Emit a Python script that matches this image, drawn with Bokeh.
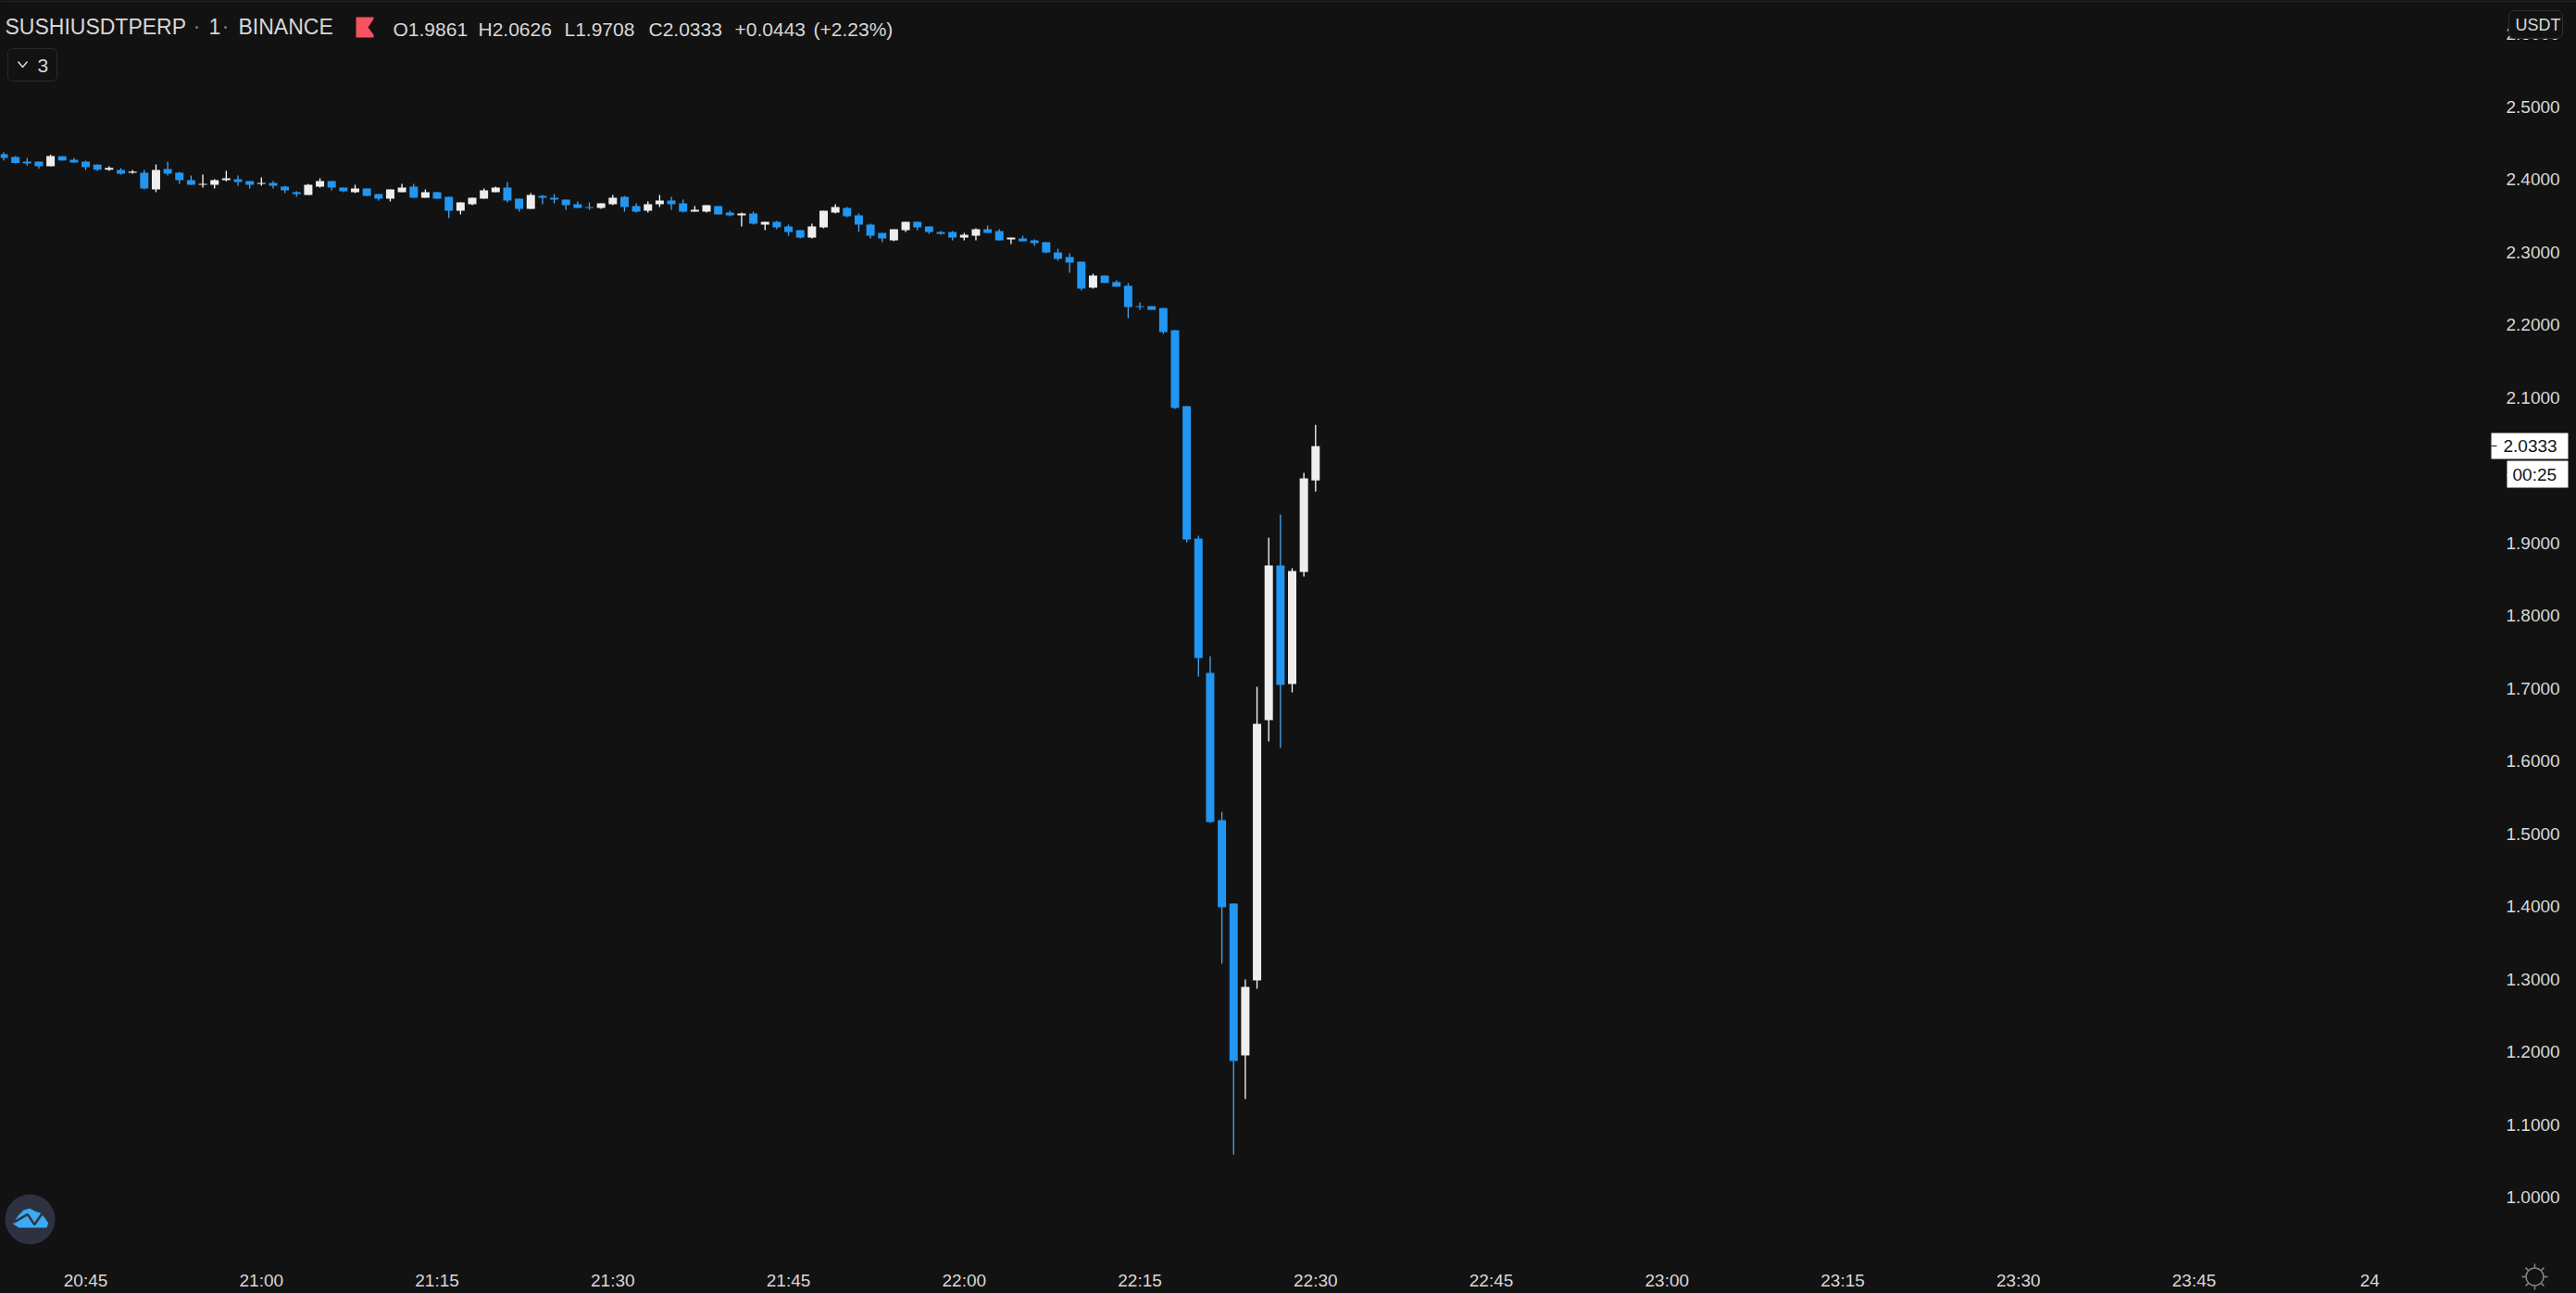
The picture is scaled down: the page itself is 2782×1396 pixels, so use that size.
import math
from bokeh.embed import file_html
from bokeh.resources import INLINE
from bokeh.plotting import figure
from bokeh.models import Range1d, FixedTicker, NumeralTickFormatter, Label

symbol = "SUSHIUSDTPERP"
start_minute = 1238  # 20:38

opens = [2.4350,2.4312,2.4248,2.4248,2.4184,2.4320,2.4274,2.4248,2.4205,2.4137,
2.4133,2.4095,2.4095,2.3865,2.4146,2.4095,2.3993,2.3929,2.3929,2.3993,
2.4006,2.3980,2.3942,2.3955,2.3904,2.3827,2.3789,2.3904,2.3980,2.3891,
2.3827,2.3878,2.3802,2.3738,2.3827,2.3904,2.3751,2.3827,2.3763,2.3572,
2.3661,2.3738,2.3827,2.3891,2.3738,2.3598,2.3776,2.3751,2.3725,2.3661,
2.3623,2.3610,2.3661,2.3763,2.3636,2.3572,2.3661,2.3712,2.3674,2.3559,
2.3559,2.3636,2.3547,2.3508,2.3534,2.3381,2.3419,2.3355,2.3304,2.3202,
2.3343,2.3547,2.3610,2.3508,2.3381,2.3266,2.3164,2.3304,2.3419,2.3355,
2.3279,2.3279,2.3202,2.3228,2.3317,2.3292,2.3177,2.3190,2.3164,2.3139,
2.2998,2.2935,2.2871,2.2514,2.2680,2.2590,2.2539,2.2259,2.2259,2.2233,
2.1928,2.0883,1.9061,1.7213,1.5187,1.4040,1.1950,1.2982,1.6563,1.8691,1.7060,1.8602,1.9861]

highs = [2.4376,2.4325,2.4299,2.4248,2.4342,2.4325,2.4299,2.4261,2.4210,2.4184,
2.4159,2.4133,2.4133,2.4210,2.4248,2.4108,2.4057,2.4070,2.4006,2.4120,
2.4057,2.3980,2.4031,2.3980,2.3916,2.3840,2.3942,2.4018,2.3980,2.3891,
2.3929,2.3878,2.3802,2.3865,2.3942,2.3942,2.3866,2.3827,2.3763,2.3687,
2.3751,2.3878,2.3904,2.3968,2.3738,2.3815,2.3789,2.3802,2.3725,2.3700,
2.3687,2.3674,2.3789,2.3776,2.3674,2.3700,2.3789,2.3763,2.3725,2.3636,
2.3649,2.3636,2.3572,2.3547,2.3559,2.3419,2.3432,2.3381,2.3304,2.3394,
2.3572,2.3662,2.3623,2.3534,2.3394,2.3266,2.3317,2.3419,2.3419,2.3355,
2.3292,2.3292,2.3266,2.3330,2.3368,2.3317,2.3202,2.3228,2.3177,2.3139,
2.3049,2.2986,2.2871,2.2705,2.2680,2.2616,2.2578,2.2310,2.2259,2.2233,
2.1928,2.0883,1.9099,1.7442,1.5302,1.4040,1.2995,1.7022,1.9074,1.9392,1.8653,1.9966,2.0626]

lows = [2.4265,2.4223,2.4189,2.4150,2.4184,2.4261,2.4231,2.4133,2.4120,2.4120,
2.4070,2.4082,2.3865,2.3827,2.4057,2.3942,2.3929,2.3891,2.3878,2.3976,
2.3916,2.3878,2.3916,2.3878,2.3814,2.3763,2.3789,2.3891,2.3853,2.3827,
2.3814,2.3776,2.3712,2.3700,2.3827,2.3751,2.3751,2.3738,2.3470,2.3521,
2.3649,2.3738,2.3827,2.3687,2.3559,2.3598,2.3661,2.3674,2.3585,2.3610,
2.3585,2.3598,2.3649,2.3559,2.3547,2.3547,2.3623,2.3585,2.3547,2.3559,
2.3547,2.3521,2.3496,2.3355,2.3381,2.3304,2.3317,2.3228,2.3190,2.3190,
2.3330,2.3534,2.3483,2.3279,2.3190,2.3139,2.3151,2.3279,2.3304,2.3253,
2.3241,2.3164,2.3164,2.3164,2.3266,2.3164,2.3113,2.3151,2.3088,2.2986,
2.2884,2.2718,2.2476,2.2501,2.2578,2.2527,2.2093,2.2208,2.2208,2.1876,
2.0845,1.9010,1.7162,1.5148,1.3211,1.0586,1.1351,1.2867,1.6270,1.6181,1.6945,1.8538,1.9708]

closes = [2.4299,2.4227,2.4223,2.4184,2.4325,2.4265,2.4235,2.4172,2.4137,2.4163,
2.4082,2.4112,2.3878,2.4133,2.4082,2.3993,2.3929,2.3942,2.3993,2.4018,
2.3967,2.3929,2.3955,2.3916,2.3853,2.3802,2.3929,2.3980,2.3891,2.3840,
2.3878,2.3776,2.3738,2.3865,2.3891,2.3751,2.3827,2.3738,2.3572,2.3687,
2.3751,2.3853,2.3891,2.3712,2.3598,2.3789,2.3751,2.3725,2.3649,2.3610,
2.3610,2.3674,2.3751,2.3623,2.3559,2.3661,2.3712,2.3661,2.3559,2.3585,
2.3649,2.3521,2.3508,2.3534,2.3394,2.3419,2.3343,2.3279,2.3202,2.3355,
2.3572,2.3623,2.3496,2.3381,2.3228,2.3190,2.3317,2.3419,2.3343,2.3279,
2.3253,2.3202,2.3241,2.3317,2.3266,2.3164,2.3202,2.3151,2.3126,2.2998,
2.2909,2.2858,2.2501,2.2680,2.2578,2.2527,2.2246,2.2246,2.2208,2.1902,
2.0858,1.9048,1.7417,1.5161,1.3989,1.1873,1.2893,1.6512,1.8691,1.7047,1.8615,1.9889,2.0333]

price_ticks = [1.0,1.1,1.2,1.3,1.4,1.5,1.6,1.7,1.8,1.9,2.0,2.1,2.2,2.3,2.4,2.5,2.6]
time_ticks = [1245,1260,1275,1290,1305,1320,1335,1350,1365,1380,1395,1410,1425,1440]
time_labels = ["20:45","21:00","21:15","21:30","21:45","22:00","22:15","22:30",
               "22:45","23:00","23:15","23:30","23:45","24"]

BG = "#121212"
BLUE = "#2196f3"
WHITE = "#eeeeee"
TEXT = "#d8d8d8"
FONT = "Liberation Sans"

def X(px):
    return 1350 + (px - 1420.3) / 12.65

def Y(py):
    return 1 + (1292 - py) / 784.7

p = figure(width=2782, height=1396, output_backend="svg", toolbar_location=None,
           x_range=Range1d(X(0), X(2782)), y_range=Range1d(Y(1396), Y(0)),
           y_axis_location="right", background_fill_color=BG, border_fill_color=BG,
           outline_line_color=None, min_border_left=0, min_border_top=0,
           min_border_right=0, min_border_bottom=0)
p.grid.visible = False

for ax in (p.xaxis[0], p.yaxis[0]):
    ax.axis_line_color = None
    ax.major_tick_line_color = None
    ax.minor_tick_line_color = None
    ax.major_label_text_color = TEXT
    ax.major_label_text_font = FONT
    ax.major_label_text_font_size = "19px"
p.yaxis[0].ticker = FixedTicker(ticks=price_ticks)
p.yaxis[0].formatter = NumeralTickFormatter(format="0.0000")
p.yaxis[0].fixed_location = X(2695)
p.yaxis[0].major_label_standoff = 5
p.xaxis[0].ticker = FixedTicker(ticks=time_ticks)
p.xaxis[0].major_label_overrides = dict(zip(time_ticks, time_labels))
p.xaxis[0].fixed_location = Y(1360)
p.xaxis[0].major_label_standoff = 5

minutes = [start_minute + i for i in range(len(opens))]
up = [c >= o for o, c in zip(opens, closes)]
colors = [WHITE if u else BLUE for u in up]
wick_colors = ["#ffffff" if u else "#4aa5f0" for u in up]
tops = [max(o, c) for o, c in zip(opens, closes)]
bottoms = [min(o, c) for o, c in zip(opens, closes)]

p.segment(minutes, highs, minutes, lows, line_color=wick_colors, line_width=1.3)
p.vbar(x=minutes, width=9 / 12.65, top=tops, bottom=bottoms, fill_color=colors, line_color=None)

def label(px, py, text, size=21, color=TEXT, align="left", level="annotation"):
    lab = Label(x=X(px), y=Y(py), text=text, text_color=color, text_font=FONT,
                text_font_size=f"{size}px", text_align=align, text_baseline="middle", level=level)
    p.add_layout(lab)
    return lab

# top hairline of the widget
p.quad(left=X(0), right=X(2782), top=Y(0), bottom=Y(1.5), fill_color="#23232b", line_color=None)

# legend line
label(5, 28, symbol, size=23)
label(225, 28, "1", size=23)
label(257, 28, "BINANCE", size=23)
p.scatter([X(212), X(243)], [Y(29), Y(29)], size=3, marker="circle", fill_color="#777777", line_color=None)
p.patch([X(px) for px in (384, 403, 403, 397, 403, 403, 384)],
        [Y(py) for py in (18, 18, 20, 29, 37, 40, 40)], fill_color="#f7525f", line_color=None)
for px, text in ((424, "O1.9861"), (516, "H2.0626"), (609, "L1.9708"), (700, "C2.0333"),
                 (793, "+0.0443"), (878, "(+2.23%)")):
    label(px, 31, text, size=21)

# collapsed indicators button
p.quad(left=X(8), right=X(61), top=Y(52), bottom=Y(87), fill_color=BG, line_color="#2b2b2b", border_radius=5)
p.line([X(px) for px in (19, 24, 29)], [Y(py) for py in (66, 72, 66)], line_color=TEXT, line_width=1.5)
label(40, 70, "3", size=21)

# logo
p.scatter([X(32)], [Y(1316)], size=54, marker="circle", fill_color="#2e3240", line_color=None)
p.patch([X(z / 3) for z in (40, 58, 75, 95, 112, 130, 145, 155, 150, 60)],
        [Y(1270 + z / 3) for z in (152, 125, 108, 103, 112, 118, 135, 150, 165, 165)],
        fill_color="#3cabf5", line_color=None)
p.line([X(z / 3) for z in (42, 88, 110, 136)], [Y(1270 + z / 3) for z in (148, 122, 155, 118)],
       line_color="#2e3240", line_width=2.5)

# settings sun icon
p.scatter([X(2737)], [Y(1378)], size=19, marker="circle", fill_color=None, line_color="#8a8a8a", line_width=1.5)
rays = [math.radians(a) for a in range(0, 360, 45)]
p.segment([X(2737 + 10 * math.cos(a)) for a in rays], [Y(1378 + 10 * math.sin(a)) for a in rays],
          [X(2737 + 14 * math.cos(a)) for a in rays], [Y(1378 + 14 * math.sin(a)) for a in rays],
          line_color="#8a8a8a", line_width=1.5)

# price scale overlays: boxes sit above the axis labels, their texts above the boxes
def box(left, right, top, bottom, fill, line=None, radius=0):
    p.quad(left=X(left), right=X(right), top=Y(top), bottom=Y(bottom), fill_color=fill,
           line_color=line, border_radius=radius, level="annotation")

box(2709, 2767, 11, 41, BG, "#2f2f2f", 6)
label(2716, 26, "USDT", size=18, level="overlay")
box(2690, 2773, 467, 495, "#ffffff")
label(2703, 481, f"{closes[-1]:.4f}", size=19, color="#131313", level="overlay")
box(2707, 2773, 497, 526, "#ffffff")
label(2713, 511.5, "00:25", size=19, color="#131313", level="overlay")
box(2690, 2696, 480.5, 481.5, "#131313")

html = file_html(p, INLINE)
html = html.replace("</head>", "<style>html,body{background:#121212}</style></head>")
open("out.html", "w").write(html)
